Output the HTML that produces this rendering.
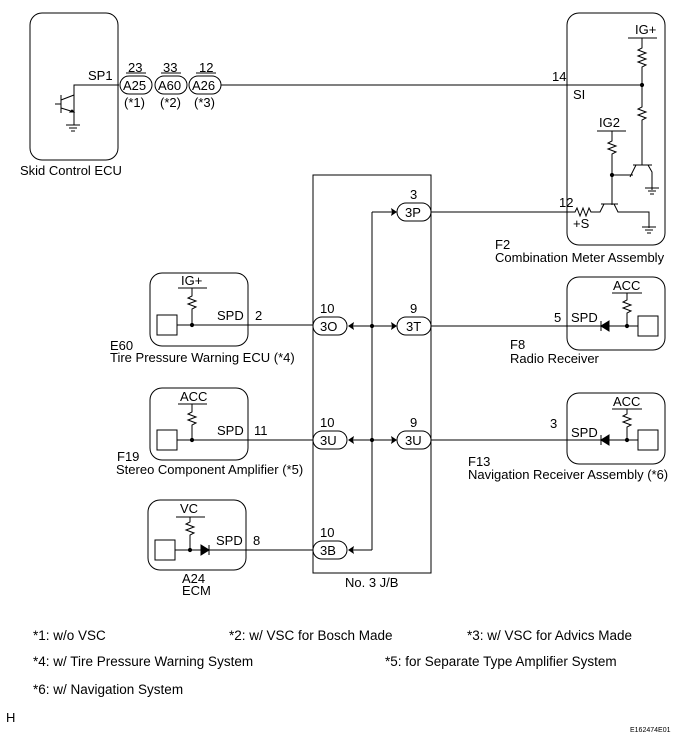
<!DOCTYPE html>
<html><head><meta charset="utf-8"><style>
html,body{margin:0;padding:0;background:#fff}
svg{display:block}
text{font-family:"Liberation Sans",Arial,sans-serif;font-size:13px;fill:#000}
.fn{font-size:13.5px}
</style></head><body>
<svg width="680" height="741" viewBox="0 0 680 741" xmlns="http://www.w3.org/2000/svg" fill="none" stroke="#000" stroke-width="1">
<rect x="30" y="13" width="88" height="147" rx="12"/>
<text x="20" y="175" stroke="none">Skid Control ECU</text>
<text x="88" y="80" stroke="none">SP1</text>
<path d="M119,85 H74 V112"/>
<path d="M61,95 V113 M61,104 H55 M61,100 L74,95 M61,108 L74,112 V125"/>
<path d="M72,110 l2,2 l-4,0 z" fill="#000"/>
<path d="M66,125 H80 M69,128 H77 M71,131 H75"/>
<rect x="120" y="76" width="32" height="18" rx="9"/>
<rect x="155" y="76" width="32" height="18" rx="9"/>
<rect x="189" y="76" width="32" height="18" rx="9"/>
<text x="123" y="90" stroke="none">A25</text>
<text x="158" y="90" stroke="none">A60</text>
<text x="192" y="90" stroke="none">A26</text>
<text x="128" y="72" stroke="none">23</text>
<text x="163" y="72" stroke="none">33</text>
<text x="199" y="72" stroke="none">12</text>
<path d="M126,73 H146 M161,73 H181 M196,73 H216"/>
<text x="124" y="107" stroke="none">(*1)</text>
<text x="160" y="107" stroke="none">(*2)</text>
<text x="194" y="107" stroke="none">(*3)</text>
<path d="M221,85 H642"/>
<rect x="567" y="13" width="98" height="232" rx="12"/>
<text x="552" y="81" stroke="none">14</text>
<text x="573" y="99" stroke="none">SI</text>
<text x="635" y="34" stroke="none">IG+</text>
<path d="M628,38 H657"/>
<path d="M642,38 V48 l-4,2 l8,3 l-8,3 l8,3 l-8,3 l8,3 l-4,2 V107 l-4,2 l8,3 l-8,3 l8,3 l-4,2 V165"/>
<circle cx="642" cy="85" r="1.6" fill="#000"/>
<text x="599" y="127" stroke="none">IG2</text>
<path d="M597,131 H626"/>
<path d="M612,131 V141 l-4,2 l8,3 l-8,3 l8,3 l-4,2 V205"/>
<circle cx="612" cy="175" r="1.6" fill="#000"/>
<path d="M612,175 H633 M633,165 H652 M636,165 L630,177 M648,165 L652,172 V190"/>
<path d="M645,188 H659 M648,191 H656 M650,194 H654"/>
<text x="559" y="207" stroke="none">12</text>
<path d="M431,212 H575 l2,-4 l3,8 l3,-8 l3,8 l3,-8 l2,4 H600 l4,-8 M601,204 H618 M614,204 L618,212 H649 V228"/>
<path d="M642,227 H656 M645,230 H653 M647,233 H651"/>
<text x="573" y="228" stroke="none">+S</text>
<text x="495" y="249" stroke="none">F2</text>
<text x="495" y="262" stroke="none">Combination Meter Assembly</text>
<rect x="313" y="175" width="118" height="398"/>
<text x="345" y="587" stroke="none">No. 3 J/B</text>
<path d="M372,212 V550 M372,212 H395 M372,326 H350 M372,326 H395 M372,440 H350 M372,440 H395 M372,550 H350"/>
<circle cx="372" cy="326" r="1.6" fill="#000"/>
<circle cx="372" cy="440" r="1.6" fill="#000"/>
<g fill="#000" stroke="none">
<path d="M397,212 l-6,-4 l1,4 l-1,4z"/>
<path d="M397,326 l-6,-4 l1,4 l-1,4z"/>
<path d="M397,440 l-6,-4 l1,4 l-1,4z"/>
<path d="M348,326 l6,-4 l-1,4 l1,4z"/>
<path d="M348,440 l6,-4 l-1,4 l1,4z"/>
<path d="M348,550 l6,-4 l-1,4 l1,4z"/>
</g>
<rect x="397" y="203" width="34" height="18" rx="9"/><text x="405" y="217" stroke="none">3P</text><text x="410" y="199" stroke="none">3</text>
<rect x="313" y="317" width="34" height="18" rx="9"/><text x="320" y="331" stroke="none">3O</text><text x="320" y="313" stroke="none">10</text>
<rect x="397" y="317" width="34" height="18" rx="9"/><text x="406" y="331" stroke="none">3T</text><text x="410" y="313" stroke="none">9</text>
<rect x="313" y="431" width="34" height="18" rx="9"/><text x="320" y="445" stroke="none">3U</text><text x="320" y="427" stroke="none">10</text>
<rect x="397" y="431" width="34" height="18" rx="9"/><text x="405" y="445" stroke="none">3U</text><text x="410" y="427" stroke="none">9</text>
<rect x="313" y="541" width="34" height="18" rx="9"/><text x="320" y="555" stroke="none">3B</text><text x="320" y="537" stroke="none">10</text>
<rect x="150" y="273" width="98" height="73" rx="12"/>
<text x="181" y="285" stroke="none">IG+</text>
<path d="M178,288 H207 M192,288 V296 l-4,2 l8,3 l-8,3 l8,3 l-4,2 V325"/>
<rect x="157" y="315" width="20" height="20"/>
<path d="M177,325 H313"/><circle cx="192" cy="325" r="1.6" fill="#000"/>
<text x="217" y="320" stroke="none">SPD</text><text x="255" y="320" stroke="none">2</text>
<text x="110" y="350" stroke="none">E60</text>
<text x="110" y="362" stroke="none">Tire Pressure Warning ECU (*4)</text>
<rect x="150" y="388" width="98" height="72" rx="12"/>
<text x="180" y="401" stroke="none">ACC</text>
<path d="M178,404 H207 M192,404 V412 l-4,2 l8,3 l-8,3 l8,3 l-4,2 V440"/>
<rect x="157" y="430" width="20" height="20"/>
<path d="M177,440 H313"/><circle cx="192" cy="440" r="1.6" fill="#000"/>
<text x="217" y="435" stroke="none">SPD</text><text x="254" y="435" stroke="none">11</text>
<text x="117" y="461" stroke="none">F19</text>
<text x="116" y="474" stroke="none">Stereo Component Amplifier (*5)</text>
<rect x="148" y="500" width="98" height="70" rx="12"/>
<text x="180" y="513" stroke="none">VC</text>
<path d="M176,517 H205 M190,517 V522 l-4,2 l8,3 l-8,3 l8,3 l-4,2 V550"/>
<rect x="155" y="540" width="20" height="20"/>
<path d="M175,550 H313"/><circle cx="190" cy="550" r="1.6" fill="#000"/>
<path d="M201,545 L209,550 L201,555z M209,545 V555" fill="#000"/>
<text x="216" y="545" stroke="none">SPD</text><text x="253" y="545" stroke="none">8</text>
<text x="182" y="583" stroke="none">A24</text>
<text x="182" y="595" stroke="none">ECM</text>
<rect x="567" y="277" width="98" height="73" rx="12"/>
<text x="613" y="290" stroke="none">ACC</text>
<path d="M612,293 H642 M627,293 V300 l-4,2 l8,3 l-8,3 l8,3 l-4,2 V326"/>
<rect x="638" y="316" width="20" height="20"/>
<path d="M431,326 H638"/><circle cx="627" cy="326" r="1.6" fill="#000"/>
<path d="M609,321 L601,326 L609,331z M601,321 V331" fill="#000"/>
<text x="554" y="322" stroke="none">5</text><text x="571" y="322" stroke="none">SPD</text>
<text x="510" y="349" stroke="none">F8</text>
<text x="510" y="363" stroke="none">Radio Receiver</text>
<rect x="567" y="393" width="98" height="71" rx="12"/>
<text x="613" y="406" stroke="none">ACC</text>
<path d="M612,409 H642 M627,409 V414 l-4,2 l8,3 l-8,3 l8,3 l-4,2 V440"/>
<rect x="638" y="430" width="20" height="20"/>
<path d="M431,440 H638"/><circle cx="627" cy="440" r="1.6" fill="#000"/>
<path d="M609,435 L601,440 L609,445z M601,435 V445" fill="#000"/>
<text x="550" y="428" stroke="none">3</text><text x="571" y="437" stroke="none">SPD</text>
<text x="468" y="466" stroke="none">F13</text>
<text x="468" y="479" stroke="none">Navigation Receiver Assembly (*6)</text>
<text class="fn" x="33" y="640" stroke="none">*1: w/o VSC</text>
<text class="fn" x="229" y="640" stroke="none">*2: w/ VSC for Bosch Made</text>
<text class="fn" x="467" y="640" stroke="none">*3: w/ VSC for Advics Made</text>
<text class="fn" x="33" y="666" stroke="none">*4: w/ Tire Pressure Warning System</text>
<text class="fn" x="385" y="666" stroke="none">*5: for Separate Type Amplifier System</text>
<text class="fn" x="33" y="694" stroke="none">*6: w/ Navigation System</text>
<text x="6" y="722" stroke="none">H</text>
<text x="630" y="732" stroke="none" style="font-size:7px">E162474E01</text>
</svg>
</body></html>
